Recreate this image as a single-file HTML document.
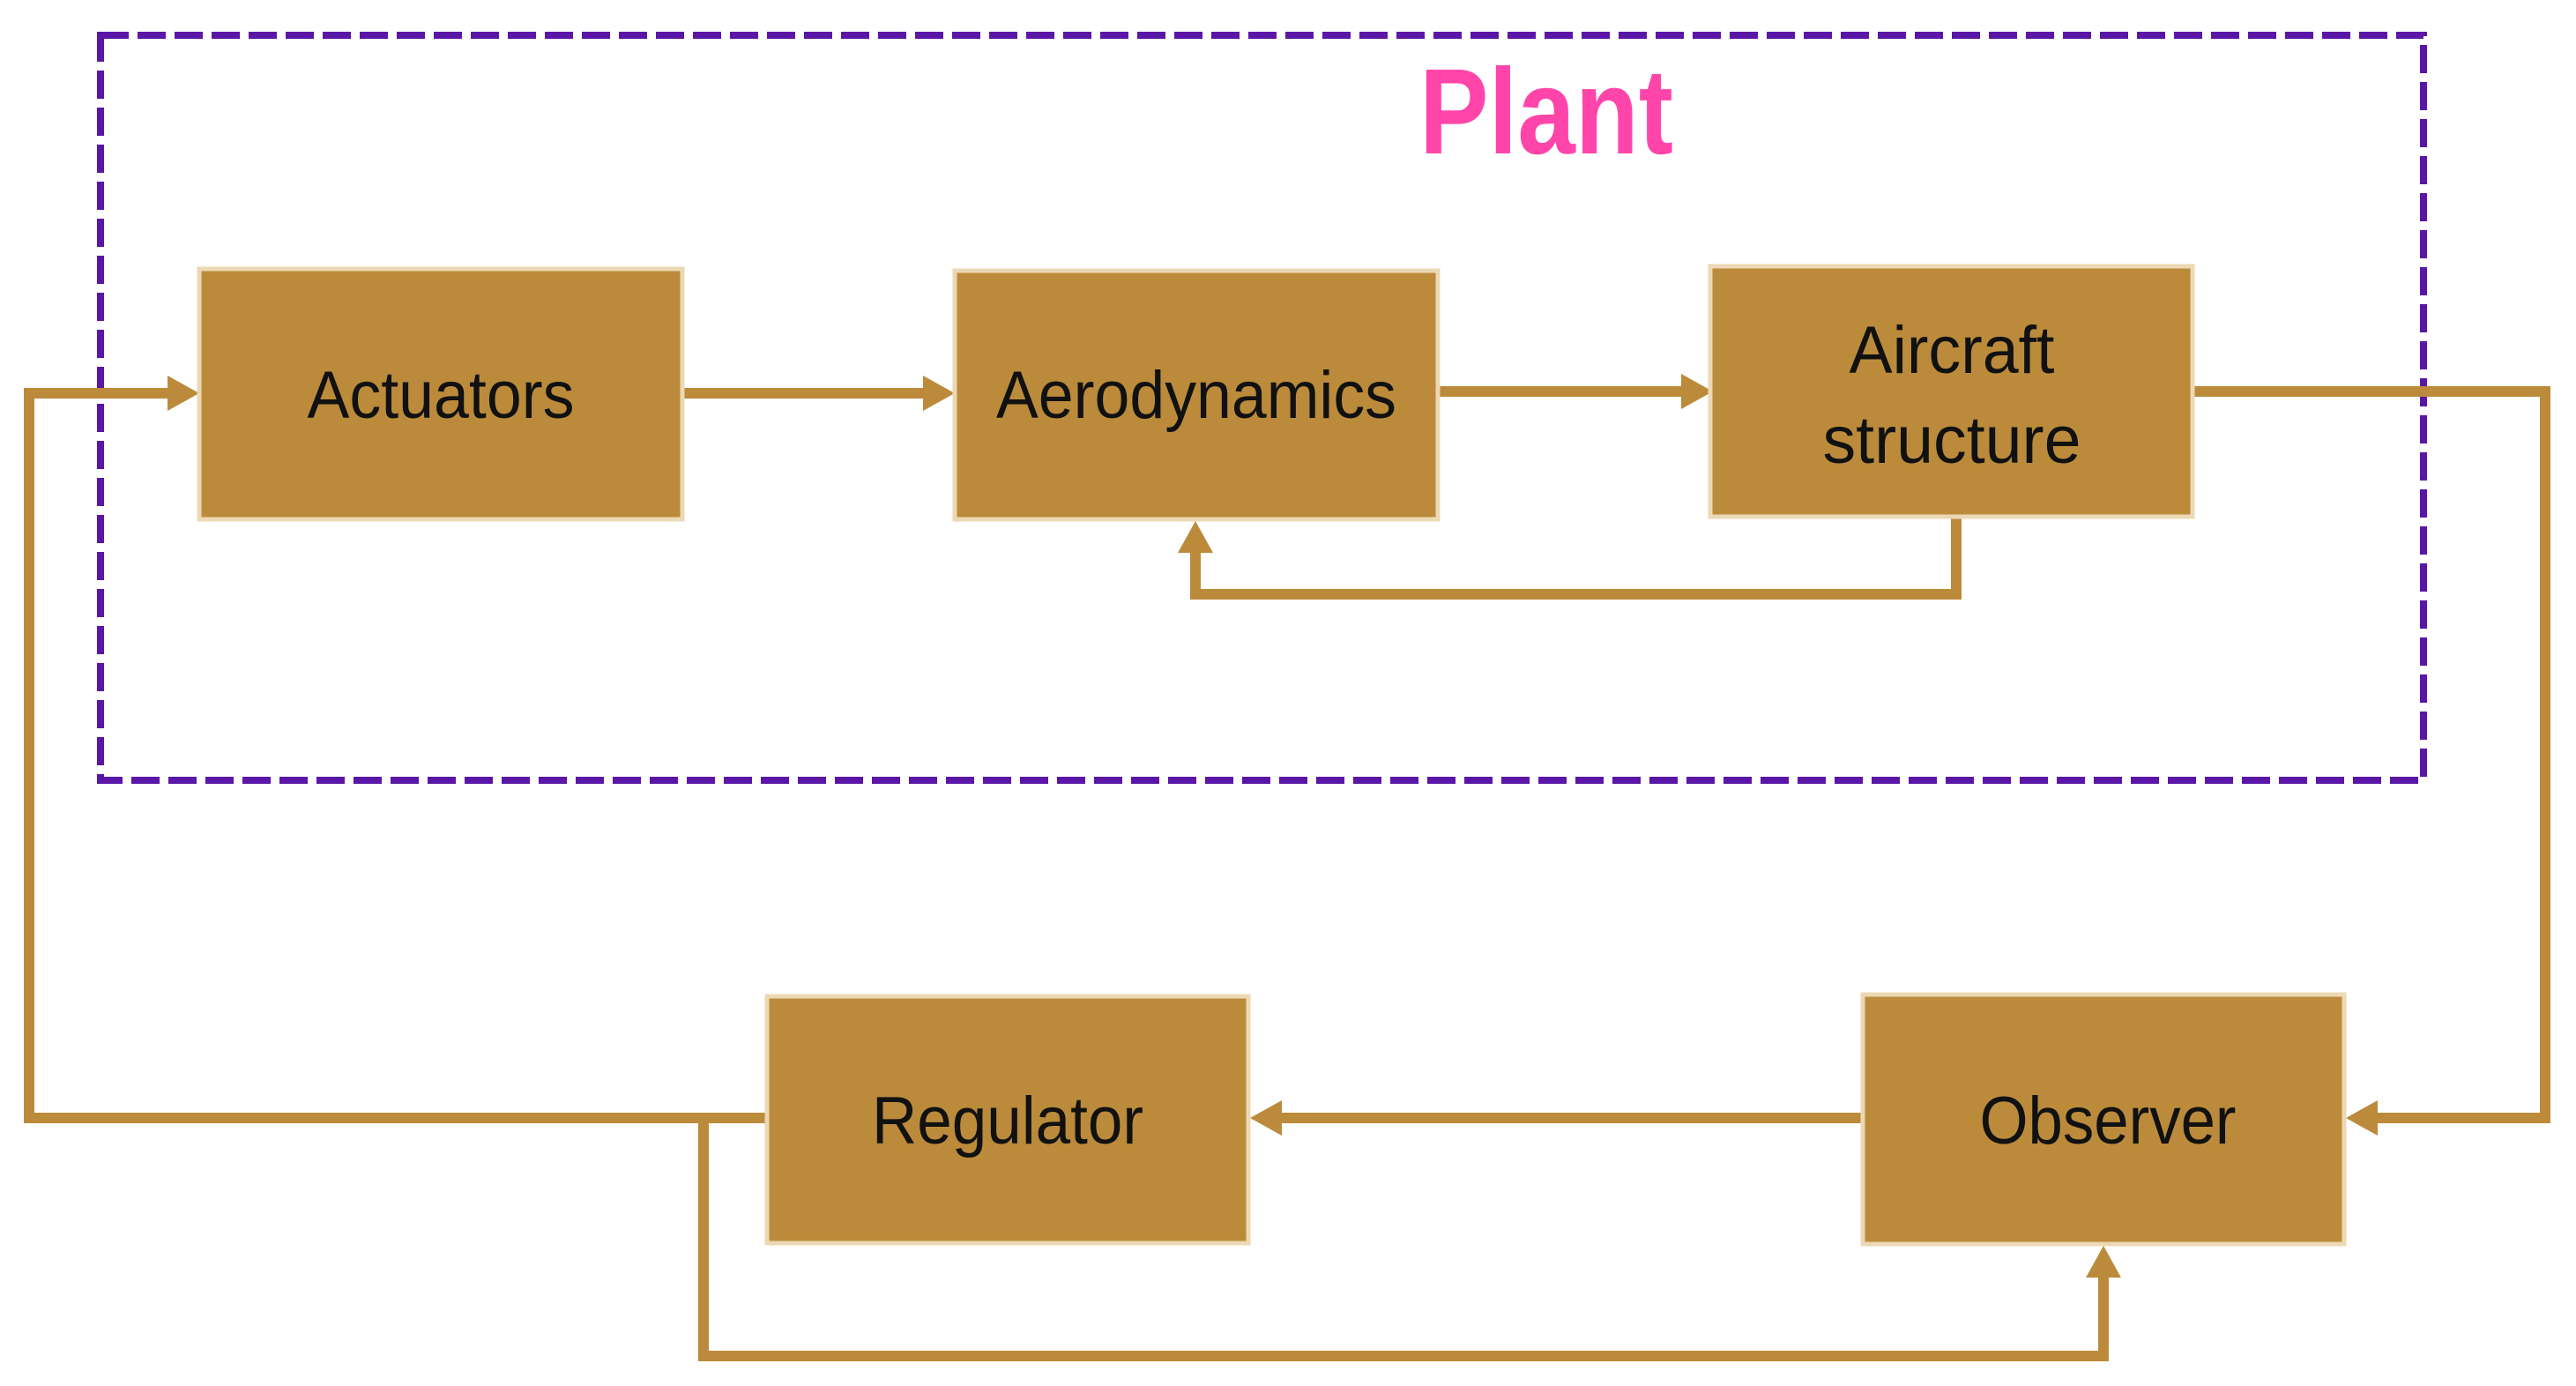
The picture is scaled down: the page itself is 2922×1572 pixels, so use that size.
<!DOCTYPE html>
<html><head><meta charset="utf-8"><style>
html,body{margin:0;padding:0;background:#fff;}
svg{display:block;}
text{font-family:"Liberation Sans",sans-serif;}
</style></head><body>
<svg width="2922" height="1572" viewBox="0 0 2922 1572" xmlns="http://www.w3.org/2000/svg">
<rect x="0" y="0" width="2922" height="1572" fill="#fff"/>
<rect x="114" y="40" width="2635" height="845" fill="none" stroke="#5a16a6" stroke-width="8" stroke-dasharray="32 10"/>
<text x="1754" y="174" font-size="138" font-weight="bold" fill="#ff45aa" text-anchor="middle" textLength="288" lengthAdjust="spacingAndGlyphs">Plant</text>

<g fill="none" stroke="#bb8b3b" stroke-width="12">
  <line x1="774" y1="446" x2="1060" y2="446"/>
  <line x1="1631" y1="444" x2="1920" y2="444"/>
  <polyline points="2487,444 2887,444 2887,1268 2685,1268"/>
  <polyline points="2219,586 2219,674 1356,674 1356,612"/>
  <line x1="2113" y1="1268" x2="1440" y2="1268"/>
  <polyline points="870,1268 33,1268 33,446 204,446"/>
  <polyline points="798,1268 798,1538 2386,1538 2386,1436"/>
</g>
<g fill="#bb8b3b">
  <polygon points="226,446 190,426 190,466"/>
  <polygon points="1083,446 1047,426 1047,466"/>
  <polygon points="1943,444 1907,424 1907,464"/>
  <polygon points="1356,591 1336,627 1376,627"/>
  <polygon points="2661,1268 2697,1248 2697,1288"/>
  <polygon points="1418,1268 1454,1248 1454,1288"/>
  <polygon points="2386,1413 2366,1449 2406,1449"/>
</g>

<g fill="#bb8b3b" stroke="#ecd8b4" stroke-width="5">
  <rect x="226" y="305" width="548" height="284"/>
  <rect x="1083" y="307" width="548" height="282"/>
  <rect x="1940" y="302" width="547" height="284"/>
  <rect x="870" y="1130" width="546" height="280"/>
  <rect x="2113" y="1128" width="546" height="283"/>
</g>

<g font-size="76" fill="#111" text-anchor="middle">
  <text x="500" y="474" textLength="303" lengthAdjust="spacingAndGlyphs">Actuators</text>
  <text x="1357" y="474" textLength="454" lengthAdjust="spacingAndGlyphs">Aerodynamics</text>
  <text x="2214" y="423" textLength="233" lengthAdjust="spacingAndGlyphs">Aircraft</text>
  <text x="2214" y="525" textLength="293" lengthAdjust="spacingAndGlyphs">structure</text>
  <text x="1143" y="1297" textLength="308" lengthAdjust="spacingAndGlyphs">Regulator</text>
  <text x="2391" y="1297" textLength="291" lengthAdjust="spacingAndGlyphs">Observer</text>
</g>
</svg>
</body></html>
